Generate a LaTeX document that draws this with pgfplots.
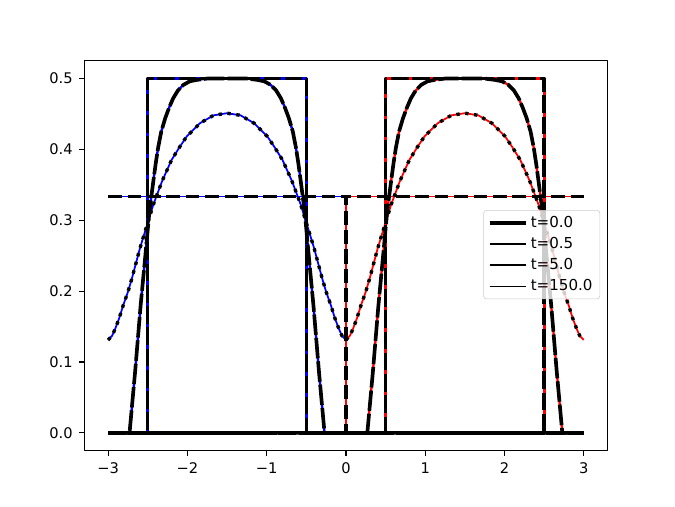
\documentclass[border=0pt]{standalone}
\usepackage{fontspec}
\setmainfont{DejaVu Sans}
\usepackage{pgfplots}
\pgfplotsset{compat=1.18}
\usepackage{pgfplotstable}

\pgfplotstableread{
x y
-3 0
-2.5 0
-2.5 0.5
-0.5 0.5
-0.5 0
3 0
}\uA
\pgfplotstableread{
x y
-3 0
0.5 0
0.5 0.5
2.5 0.5
2.5 0
3 0
}\vA
\pgfplotstableread{
x y
-3 0
-2.73 0
-2.66 0.086
-2.59 0.180
-2.53 0.251
-2.48 0.312
-2.43 0.355
-2.40 0.380
-2.37 0.402
-2.33 0.425
-2.28 0.444
-2.23 0.459
-2.18 0.472
-2.12 0.483
-2.05 0.491
-1.97 0.496
-1.88 0.498
-1.74 0.5
-1.26 0.5
-1.12 0.498
-1.03 0.496
-0.95 0.491
-0.88 0.483
-0.82 0.472
-0.77 0.459
-0.72 0.444
-0.67 0.425
-0.63 0.402
-0.60 0.380
-0.57 0.355
-0.52 0.312
-0.47 0.251
-0.41 0.180
-0.34 0.086
-0.27 0
3 0
}\uB
\pgfplotstableread{
x y
-3 0
0.27 0
0.34 0.086
0.41 0.180
0.47 0.251
0.52 0.312
0.57 0.355
0.60 0.380
0.63 0.402
0.67 0.425
0.72 0.444
0.77 0.459
0.82 0.472
0.88 0.483
0.95 0.491
1.03 0.496
1.12 0.498
1.26 0.5
1.74 0.5
1.88 0.498
1.97 0.496
2.05 0.491
2.12 0.483
2.18 0.472
2.23 0.459
2.28 0.444
2.33 0.425
2.37 0.402
2.40 0.380
2.43 0.355
2.48 0.312
2.53 0.251
2.59 0.180
2.66 0.086
2.73 0
3 0
}\vB
\pgfplotstableread{
x y
-3 0.131
-2.95 0.137
-2.91 0.147
-2.86 0.162
-2.81 0.180
-2.75 0.199
-2.70 0.218
-2.65 0.239
-2.60 0.260
-2.51 0.293
-2.43 0.322
-2.32 0.355
-2.20 0.385
-2.10 0.403
-2.01 0.418
-1.84 0.437
-1.67 0.448
-1.5 0.451
-1.33 0.448
-1.16 0.437
-0.99 0.418
-0.90 0.403
-0.80 0.385
-0.68 0.355
-0.57 0.322
-0.49 0.293
-0.40 0.260
-0.35 0.239
-0.30 0.218
-0.25 0.199
-0.19 0.180
-0.14 0.162
-0.09 0.147
-0.05 0.137
0 0.131
}\uC
\pgfplotstableread{
x y
0 0.131
0.05 0.137
0.09 0.147
0.14 0.162
0.19 0.180
0.25 0.199
0.30 0.218
0.35 0.239
0.40 0.260
0.49 0.293
0.57 0.322
0.68 0.355
0.80 0.385
0.90 0.403
0.99 0.418
1.16 0.437
1.33 0.448
1.5 0.451
1.67 0.448
1.84 0.437
2.01 0.418
2.10 0.403
2.20 0.385
2.32 0.355
2.43 0.322
2.51 0.293
2.60 0.260
2.65 0.239
2.70 0.218
2.75 0.199
2.81 0.180
2.86 0.162
2.91 0.147
2.95 0.137
3 0.131
}\vC
\pgfplotstableread{
x y
-3 0.3333
0 0.3333
0 0
3 0
}\uD
\pgfplotstableread{
x y
-3 0
0 0
0 0.3333
3 0.3333
}\vD

\begin{document}
\begin{tikzpicture}
\path[use as bounding box] (-57.6pt,-38.02pt) rectangle (403.2pt,307.58pt);
\begin{axis}[
  at={(0pt,0pt)}, anchor=south west,
  scale only axis, width=357.12pt, height=266.11pt,
  xmin=-3.3, xmax=3.3, ymin=-0.025, ymax=0.525,
  xtick={-3,-2,-1,0,1,2,3},
  xticklabels={−3,−2,−1,0,1,2,3},
  ytick={0,0.1,0.2,0.3,0.4,0.5},
  yticklabels={0.0,0.1,0.2,0.3,0.4,0.5},
  tick pos=left, tick align=outside,
  major tick length=3.5pt,
  every tick/.style={black, line width=0.8pt},
  axis line style={line width=0.8pt},
  tick label style={font=\fontsize{10}{12}\selectfont},
  xticklabel style={yshift=-1pt},
  yticklabel style={xshift=-1pt},
  legend cell align=left,
  legend image code/.code={\draw[#1] (0pt,0pt) -- (20pt,0pt); \path (0pt,0pt) -- (25pt,0pt);},
  legend style={at={(0.986,0.617)}, anchor=north east,
    draw=black!20, rounded corners=2pt, fill=white, fill opacity=0.8, text opacity=1,
    font=\fontsize{10.3}{12}\selectfont, inner xsep=3pt, inner ysep=2pt,
    row sep=1.3pt},
  line join=round,
]
\addlegendimage{black, line width=2.2pt}
\addlegendentry{t=0.0}
\addlegendimage{black, line width=1.8pt}
\addlegendentry{t=0.5}
\addlegendimage{black, line width=1.4pt}
\addlegendentry{t=5.0}
\addlegendimage{black, line width=0.7pt}
\addlegendentry{t=150.0}

% coloured components underneath
\addplot[forget plot, blue, line width=2pt] table {\uA};
\addplot[forget plot, red, line width=2pt] table {\vA};
\addplot[forget plot, blue, line width=1.6pt] table {\uB};
\addplot[forget plot, red, line width=1.6pt] table {\vB};
\addplot[forget plot, blue, line width=1.2pt] table {\uC};
\addplot[forget plot, red, line width=1.2pt] table {\vC};
\addplot[forget plot, blue, line width=0.9pt] table {\uD};
\addplot[forget plot, red, line width=0.9pt] table {\vD};

% black styled lines on top
\addplot[forget plot, black, line width=2.3pt, dash pattern=on 12pt off 2.5pt] table {\uA};
\addplot[forget plot, black, line width=2.3pt, dash pattern=on 12pt off 2.5pt] table {\vA};
\addplot[forget plot, black, line width=2.5pt, dash pattern=on 14pt off 2pt] table {\uB};
\addplot[forget plot, black, line width=2.5pt, dash pattern=on 14pt off 2pt] table {\vB};
\addplot[forget plot, black, line width=2.3pt, dash pattern=on 2.3pt off 3.8pt] table {\uC};
\addplot[forget plot, black, line width=2.3pt, dash pattern=on 2.3pt off 3.8pt] table {\vC};
\addplot[forget plot, black, line width=2.5pt, dash pattern=on 9.25pt off 4pt] table {\uD};
\addplot[forget plot, black, line width=2.5pt, dash pattern=on 9.25pt off 4pt] table {\vD};
\end{axis}
\end{tikzpicture}
\end{document}
